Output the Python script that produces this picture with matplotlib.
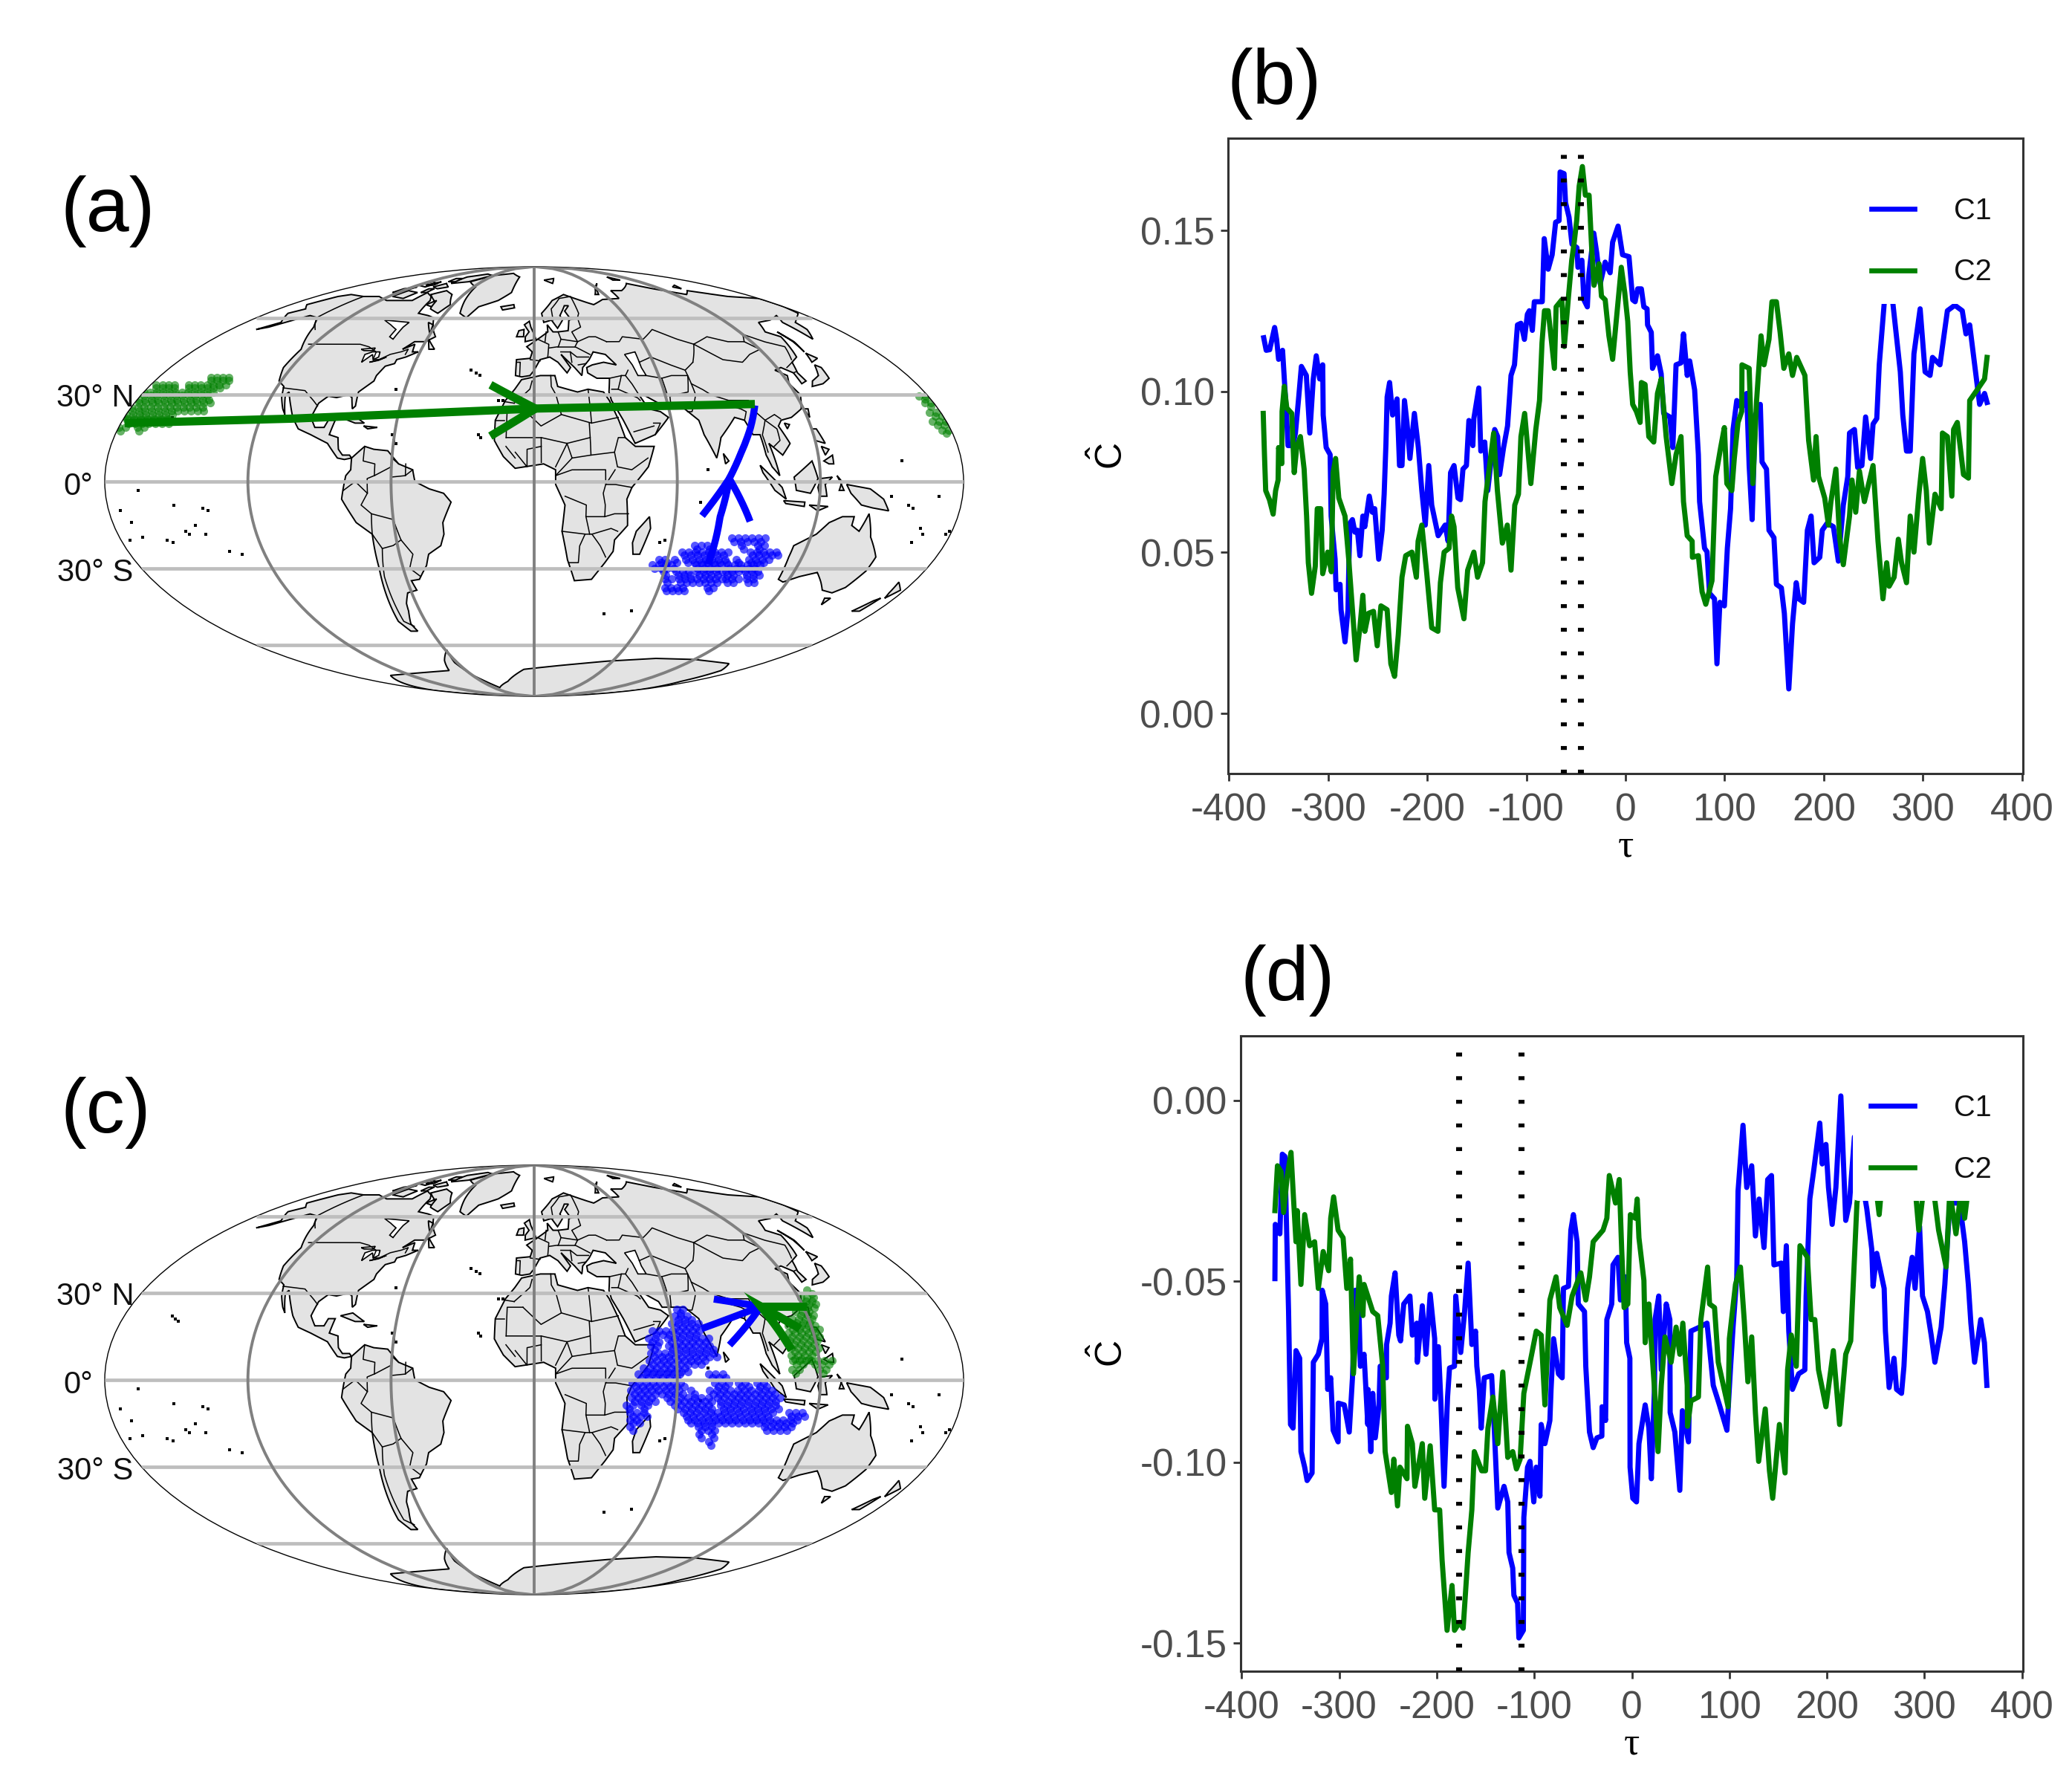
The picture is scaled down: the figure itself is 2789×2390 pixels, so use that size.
import numpy as np
import matplotlib
matplotlib.use('Agg')
import matplotlib.pyplot as plt
from matplotlib.lines import Line2D

plt.rcParams['font.family'] = ['Liberation Sans', 'DejaVu Sans']
plt.rcParams['axes.unicode_minus'] = False
plt.rcParams['mathtext.fontset'] = 'custom'
plt.rcParams['mathtext.rm'] = 'Liberation Sans'
plt.rcParams['mathtext.it'] = 'Liberation Sans'

W, H = 2789, 2390
DPI = 200

# lag, cross-correlation readings for panel (b)
b_c1_tau = [-365,-362.5,-359,-354,-352,-350,-346,-344,-342,-340.5,-335.5,-333,-330,-327,-322,-318.5,-315,-312,-308.5,-305.5,-305,-302,-298,-297,-293,-292,-288,-287,-283,-280,-279,-278,-275.5,-273,-270.5,-268,-265,-263,-258.5,-255.5,-253,-249,-245.5,-243.5,-241.7,-240.5,-238,-235,-230.5,-228,-225.5,-223,-220.5,-217.5,-213,-209,-205.5,-202,-198.5,-195.5,-189,-182,-179,-176.5,-173,-169,-166.5,-164,-160.5,-158,-154,-153,-148,-146,-142,-139,-132,-129,-127,-123,-119,-115.5,-112,-109,-105.5,-102,-99,-97,-94,-92,-84,-82,-78,-74,-70.5,-67,-66,-62,-60.5,-57,-54,-49,-48,-44,-42,-38.5,-37,-32,-29,-25.5,-20.5,-15.5,-13,-7.5,-3,3.5,7.25,9.75,12.25,16,18.5,21.75,22.25,26,27.25,32.25,36,38.5,44.75,47.75,51,56,58.5,62.25,64.75,69.75,73.5,74.75,79.75,82.25,84.75,89.75,92.25,95.25,99.75,102.75,106,108.5,112.25,117.25,122.25,124.75,127.75,131,136,137.75,142.25,144.75,149.75,152.25,157.25,160.25,164.75,168.5,172.25,174.75,179.75,183.5,187.25,190.25,196,198.5,203.5,209.75,214.75,219.75,224.25,226,231,234.25,238.5,242.25,247.25,249.75,253.5,256,261,264.75,269.75,277.25,279.75,283.5,287.25,291,297.25,302.25,307.25,309.75,317.25,324.75,332.25,339.75,343.5,347.25,352.25,357.25,362.25,364.75]
b_c1_val = [116.7,112.8,113,119.9,116.2,110,112.8,102.8,92.7,83.2,83.2,87.1,97.2,107.8,105,87.1,103.9,111.1,103.9,108.3,92.7,82.6,80.4,61.3,47.9,38.4,40.1,32.2,22.2,32.2,47.9,59.1,60.2,56.3,56.9,49,61.3,58,67.5,62.5,63.6,47.9,56.9,68.1,83.7,98.3,102.8,92.7,97.7,77,77,97.2,90.4,79.2,93.2,82.6,69.2,58.5,77,64.7,55.2,58.5,53.5,74.8,77,66.9,66.4,75.9,77,91,83.2,91.6,101.1,81.5,84.3,69.2,88.2,86,74.2,82.6,89.3,105,108.3,120.7,121.2,116.2,124,125.1,119,127.9,127.9,147.5,138,142.5,152.6,153.1,168.2,167.7,158.7,154.2,145.8,144.7,138.6,140.8,128.5,126.3,136.3,149.2,143,133.5,140.2,136.9,146.4,151.4,142.5,141.9,128.5,127.9,131.9,131.9,126.3,125.7,120.7,118.4,107.2,111.1,105.5,93.2,92.1,82.6,108.3,108.9,117.9,105,109.5,100.5,80.4,65.8,51.3,50.2,37.3,35.6,15.4,34.5,33.4,51.3,63.6,88.2,97.2,94.9,99.4,77,60.2,92.7,96,78.1,75.9,56.9,54.6,40.1,39,31.1,7.6,27.8,40.6,35.6,34.5,56.9,61.3,46.8,48.5,56.9,59.1,58,47.3,64.7,73.6,87.1,88.2,76.4,77,92.1,79.2,89.9,91.6,108.3,127.4,137.4,127.4,106.1,92.7,81.5,81.5,111.7,125.7,106.1,105,110.6,108.3,125.1,126.8,125.1,117.9,120.7,108.3,96,99.4,96.6]
b_c2_tau = [-365.5,-364.25,-363,-359.25,-355.5,-353,-350.5,-350,-346.75,-346.5,-344.25,-341.75,-336.75,-334.25,-331.75,-328,-324.25,-321.75,-320,-316.75,-313,-311,-307.5,-305.5,-300.5,-296.75,-295,-292.5,-289.25,-283,-279.25,-275.5,-271.75,-268,-265,-263,-259.25,-254.25,-250.5,-246.75,-240.5,-236.75,-233,-229.25,-225.5,-221.75,-215.5,-211,-209.25,-205.5,-200.5,-195.5,-189.25,-186.75,-183,-178,-175.5,-173,-169.25,-163,-159.25,-153,-149.25,-144.25,-141.75,-133,-129.25,-124.25,-119.25,-115.5,-111.75,-108,-105.5,-101.75,-95.5,-90.5,-86.75,-84.25,-81.75,-78,-71.75,-70,-64.25,-61.75,-57.5,-54.25,-51.75,-49.25,-46.75,-43.5,-40.5,-36.75,-34.25,-31.75,-26.75,-24.25,-20.5,-16.75,-13,-8,-4.25,-0.75,2.25,4.75,7.25,11,14.75,16,19.75,23.5,28.5,32.25,36,41,46.75,51,56,58.5,62.25,67.25,67.5,73.5,77.25,81,87.25,91,96,99.75,102.25,107.25,109.75,113.5,117.25,117.5,124.75,128.5,132.25,134.75,136.75,139.75,144.75,147.75,152.25,156,159.75,164.75,168.5,172.75,181,184.75,189.75,192.25,194.75,201,204.75,207.25,212.25,216,219.75,226,228.5,232.25,236,241,249.75,254.75,259.75,263.5,266,271,275.25,278.5,283.5,287.25,291,296,299.75,303.5,306.5,312.25,318.5,319.75,324.75,329.25,331,334.75,341,346,347.25,354.75,362.25,364.75]
b_c2_val = [93.2,80.4,69.2,66.4,61.9,69.2,72.5,82.6,77.6,93.8,101.6,94.9,93.2,74.8,82.6,86,75.9,61.3,46.8,37.3,45.7,63.6,63.6,43.4,50.1,44,74.8,79.2,66.9,61.3,47.9,32.2,16.6,26.6,36.7,25.5,31.1,31.7,21,33.4,32.2,15.4,11.5,24.4,42.3,49,50.1,42.3,53.5,58.5,43.4,26.6,25.5,40.6,50.1,51.3,61.3,58,39,29.4,44.5,50.1,42.3,46.8,65.8,87.1,69.2,52.9,58.5,44.5,64.7,68.1,86,93.2,71.4,88.2,97.2,115.1,125.1,125.1,107.2,126.3,128.5,114,129.6,140.8,146.4,153.1,163.8,169.9,161,161,145.3,133,139.7,129.6,128.5,117.3,110,126.3,138.6,130.7,121.8,106.1,96,93.8,90.4,102.8,102.2,86,84.3,99.4,103.9,86,71.4,80.4,86,65.8,55.2,53.5,48.5,49,37.8,33.9,41.2,73.6,82.6,88.8,71.4,69.2,79.2,90.4,93.8,108.3,107.2,71.4,97.2,108.3,117.3,108.3,116.2,127.9,127.9,118.4,107.2,111.7,105,110.6,105,84.8,72.5,86,73.6,66.9,58.5,65.8,75.9,54.6,46.2,61.3,72.5,62.5,75.3,65.8,77,53.5,35.6,46.8,39.5,42.3,54.1,46.8,40.6,61.3,50.1,68.1,79.2,69.2,52.9,68.1,63.6,87.1,86,67.5,88.2,90.4,74.2,73.1,97.2,100.5,103.9,110.6]

# lag, cross-correlation readings for panel (d)
d_c1_tau = [-365.9,-365.5,-360.8,-359.5,-358.3,-355.7,-354.4,-353.2,-351.9,-349.9,-347.3,-344.3,-340.5,-339.2,-335.4,-332.9,-327.8,-326.5,-321.4,-317.6,-317.4,-313.8,-311.8,-308.7,-306.2,-301.1,-300.9,-294.8,-289.7,-286.4,-283.4,-279.5,-278.3,-274.5,-270.7,-270.4,-267.6,-265.6,-263,-259.2,-258,-251.6,-251.4,-247.8,-246.5,-242.7,-238.9,-237.1,-233.8,-227.5,-225,-220.4,-219.9,-214.8,-211,-206.7,-202.1,-201.9,-198.3,-195.8,-192.5,-188.9,-186.9,-181.8,-180.5,-175.4,-171.6,-167.8,-164,-160.2,-158.9,-156.4,-154.4,-151.3,-143.7,-141.2,-137.4,-131,-127.2,-125.9,-122.1,-120.9,-117.1,-115.8,-111.2,-110.7,-106.9,-104.4,-100.5,-98,-94.2,-92.9,-89.1,-84,-82.8,-80.2,-75.2,-71.4,-70.1,-65,-62.5,-59.9,-56.1,-54.9,-48.5,-47.2,-44.7,-43.4,-39.6,-35.8,-30.7,-30.5,-26.9,-25.6,-20.6,-19.3,-14.2,-11.7,-6.6,-5.3,-2,-1.8,1,4.8,7.3,13.7,17.5,20,23.3,23.8,27.6,30.2,35.3,39,39.3,44.1,49.2,51.8,58.1,60.6,69.5,77.1,83.5,89.8,97.5,101.3,103.8,107.6,108.9,114,117.8,122.9,126.7,130.5,135.5,139.3,143.2,145.7,153.3,155.3,158.4,160.9,164.7,171.1,177.4,178.7,182.5,186.3,192.7,195.2,199,201.6,205.4,209.2,214.3,219.3,223.1,228.2,234.6,240.9,246,247.3,251.1,258.7,260,263.8,268.8,271.4,276.5,279,282.8,287.4,290.4,295,298,303.1,306.9,310.7,317.1,320.9,326,336.1,341.2,345,347.6,351.4,357.7,361.5,364]
d_c1_val = [-49.3,-34.3,-36.9,-25.1,-14.9,-15.5,-30.5,-43.4,-58.4,-89.6,-90.6,-69.2,-71.3,-97.1,-101.4,-105.1,-103,-72.4,-70.2,-65.9,-52.5,-56.3,-79.9,-76.7,-91.2,-94.4,-83.7,-84.2,-91.7,-76.7,-52.5,-60.6,-73.5,-70.2,-89.6,-79.9,-97.1,-81,-93.3,-84.2,-73.5,-76.7,-67.5,-61.6,-54.1,-47.7,-64.9,-66.5,-56.3,-54.1,-64.9,-61.6,-72.4,-56.8,-70.2,-53.6,-65.9,-82.6,-68.1,-83.1,-106.7,-82,-74,-73.5,-54.1,-69.7,-59,-45,-67.5,-63.8,-73.5,-79.9,-90.6,-76.7,-76.1,-89.6,-112.7,-106.7,-111,-125,-129.3,-136.8,-139,-148.6,-146.5,-115.3,-101.4,-99.8,-111,-101.4,-109.4,-89.6,-94.9,-88.5,-79.9,-65.9,-75.6,-76.7,-52,-51.4,-35.9,-31.6,-39.1,-56.3,-58.4,-73.5,-85.3,-91.7,-96,-93.3,-92.8,-84.7,-88.5,-60.6,-56.3,-45.5,-43.4,-55.2,-48.8,-67,-71.3,-101.4,-110,-111,-94.9,-84.2,-90.6,-104.6,-78.8,-60.6,-54.1,-74.5,-56.3,-60.6,-86.3,-91.7,-107.8,-85.8,-94.4,-63.8,-62.7,-61.6,-78.8,-84.2,-91.2,-73.5,-62.7,-48.8,-25.1,-6.9,-24.1,-18.1,-37.5,-27.3,-40.7,-21.9,-20.8,-45.5,-45,-58.4,-40.2,-63.8,-79.9,-75.6,-74.5,-54.1,-27.3,-19.8,-6.3,-17.6,-12.2,-24.1,-34.3,-24.1,1.2,-33.2,-28.4,-10.1,-19.8,-30,-41.2,-51.4,-42.3,-52,-63.8,-79.4,-71.3,-79.9,-81,-73.5,-52,-43.4,-52,-34.8,-54.1,-58.4,-64.9,-72.4,-62.7,-50.9,-28.4,-28.4,-39.1,-50.9,-61.6,-72.4,-60.6,-67,-78.8]
d_c2_tau = [-365.9,-363.3,-359.5,-357,-353.2,-349.4,-346.8,-344.3,-343,-339.2,-335.4,-330.3,-325.2,-321.4,-316.4,-310.8,-308.7,-305.7,-301.1,-296,-292.2,-288.4,-285.4,-279.5,-275.7,-274.5,-265.6,-260.5,-255.4,-252.9,-246.5,-244,-240.2,-237.7,-230.5,-230,-225,-222.4,-214.8,-212.3,-206.7,-202.1,-197,-194.5,-189.4,-184.3,-181.8,-176.7,-172.9,-167.8,-164,-161.5,-153.9,-150,-147.5,-142.4,-137.4,-132.3,-127.2,-122.1,-118.3,-114.5,-110.7,-103.1,-98,-92.9,-89.1,-84,-77.7,-73.9,-66.3,-61.2,-52.3,-47.2,-43.4,-39.6,-29.5,-25.6,-23.1,-16.7,-12.9,-10.4,-7.9,-4.1,-1.5,3.6,5.5,7.3,12.4,13.7,17.5,20,23.8,26.9,30.2,34,40.3,45.4,49.2,52.3,56.8,57.1,60.6,68.3,70.8,77.7,79.7,84.8,88.6,98.7,100,106.3,111.4,115.2,119,122.9,126.7,130,136.8,141.1,144.4,151.3,157.1,159.7,163.5,168.6,172.4,180,183.8,187.6,191.4,199,206.6,213,219.3,224.4,230.8,235.8,249.8,253.6,257.4,275.2,290.4,294.2,299.3,309.5,314.5,322.2,326,332.3,337.4,341.2,345,364]
d_c2_val = [-30.5,-18.1,-19.8,-31,-20.8,-14.4,-27.3,-39.1,-30.5,-50.9,-31.6,-40.2,-39.1,-52,-41.8,-47.1,-32.6,-26.7,-35.9,-38,-52,-43.9,-75.6,-48.8,-59.5,-50.9,-58.4,-59.5,-73.5,-97.1,-108.4,-99.2,-112.1,-101.4,-104.6,-90.1,-94.9,-106.7,-94.9,-110,-95.5,-113.2,-113.2,-127.1,-146.5,-134.1,-146.5,-144.3,-145.9,-125,-113.2,-97.1,-102.4,-102.4,-90.6,-82,-94.9,-75.1,-98.7,-97.1,-101.9,-99.2,-81,-70.8,-63.8,-64.9,-84.2,-55.2,-48.8,-57.3,-62.2,-54.1,-47.7,-55.2,-48.8,-39.1,-35.9,-32.6,-20.8,-28.4,-21.9,-41.2,-57.3,-56.3,-31.6,-32.6,-27.3,-38,-49.8,-67,-56.3,-67,-82,-97.1,-78.8,-65.4,-72.4,-62.7,-70.2,-61.6,-78.8,-90.1,-83.1,-82,-60.6,-46.1,-56.3,-57.3,-72.4,-84.7,-65.9,-50.9,-46.1,-60.6,-77.8,-65.4,-86.3,-99.8,-85.3,-102.4,-110,-89.6,-103,-74.5,-64.9,-73.5,-40.2,-43.4,-60.6,-60.6,-74.5,-84.7,-69.2,-89.6,-70.2,-66.5,-28.4,-19.8,-23,-31.6,-19.8,-17.6,-24.1,-35.9,-24.1,-25.1,-35.9,-46.1,-25.1,-36.9,-25.1,-32.6,-24.1,-17.6]

b_lags = [-62, -45]
d_lags = [-177, -113]
x_ticks = [-400, -300, -200, -100, 0, 100, 200, 300, 400]
b_yticks = [0.00, 0.05, 0.10, 0.15]
d_yticks = [-0.15, -0.10, -0.05, 0.00]
series_labels = ['C1', 'C2']

# land outlines, lon/lat degrees
land = [
    [(-168,66),(-162,70),(-156,71),(-141,70),(-128,70),(-115,68),(-108,68),(-95,68),(-94,72),(-85,70),(-81,68),(-78,62),(-70,61),(-65,60),(-60,55),(-56,52),(-60,50),(-66,50),(-70,47),(-65,49),(-64,46),(-61,46),(-66,44),(-70,43),(-70,41.5),(-74,40.5),(-76,37),(-76,35),(-81,31),(-80,26),(-81,25),(-83,29),(-85,30),(-90,29),(-94,29.5),(-97,27),(-98,22),(-95,18.5),(-91,18.5),(-90,21),(-87,21),(-88,16),(-84,15),(-83,11),(-81,9),(-78,9),(-77,8),(-80,7.5),(-83,8),(-86,11),(-88,13),(-92,14.5),(-96,16),(-102,18),(-106,22),(-109,26),(-113,31),(-114,30),(-110,23),(-112,25),(-115,29),(-117,33),(-121,35),(-124,40),(-124,47),(-128,51),(-133,56),(-140,60),(-148,61),(-153,59),(-160,56),(-165,55),(-158,58),(-162,60),(-166,62),(-161,64),(-168,66)],
    [(-73,78),(-60,82),(-35,83.5),(-20,81),(-20,72),(-28,68),(-40,65),(-44,60),(-50,62),(-54,68),(-58,75),(-73,78)],
    [(-80,73),(-70,71),(-62,66),(-65,62),(-73,64),(-78,68),(-88,71)],
    [(-117,70),(-105,69),(-103,72),(-115,73)],
    [(-90,77),(-75,78),(-62,82),(-75,83),(-92,81)],
    [(-125,72),(-118,72),(-116,75),(-124,74)],
    [(-100,75),(-92,74),(-85,75),(-95,77)],
    [(-120,76),(-108,75),(-105,77),(-116,78)],
    [(-100,72),(-95,72),(-95,74),(-100,74)],
    [(-112,76),(-104,76),(-106,78)],
    [(-98,78),(-90,78),(-92,80),(-100,80)],
    [(-80,66),(-74,65),(-76,68)],
    [(-66,58),(-62,57),(-60,53)],
    [(-59,51),(-53,47),(-56,47)],
    [(-77,8),(-72,12),(-68,11),(-62,10.5),(-57,6),(-51,4),(-50,0),(-44,-2.5),(-38,-4),(-35,-7),(-39,-14),(-39,-18),(-41,-22),(-47,-25),(-49,-29),(-54,-34),(-58,-34.5),(-57,-38),(-62,-39),(-65,-43),(-66,-46),(-69,-51),(-68,-54),(-72,-54),(-75,-50),(-73,-40),(-71,-30),(-70,-18),(-76,-14),(-81,-6),(-80,-2),(-79,2),(-77,4),(-77,8)],
    [(-6,35.5),(3,37),(10,37),(11,33),(20,31),(25,32),(32,31),(34,28),(37,21),(39,15),(43,12),(51,12),(48,5),(41,-2),(39,-6),(40,-15),(35,-20),(35,-24),(32,-28),(27,-34),(19,-34.5),(15,-27),(12,-17),(13,-8),(9,-1),(9,4),(4,6),(-4,5),(-8,4.5),(-13,8.5),(-17,14),(-17,21),(-13,28),(-9,32),(-6,35.5)],
    [(49,-12),(50,-16),(47,-25),(44,-25),(43,-21),(44,-17),(49,-12)],
    [(-9,37),(-9,43),(-2,43.5),(-1,46),(-4,48),(2,51),(8,54),(8,57),(11,54),(14,54),(20,54.5),(22,59),(29,60),(23,60),(21,63),(25,65.5),(22,65.5),(17,61),(18,59),(14,55.5),(11,59),(6,58),(5,62),(14,68),(25,71),(40,67),(44,66),(54,68.5),(68,69),(70,73),(80,73),(100,77),(113,74),(130,71),(140,73),(160,70),(180,69),(180,65),(178,62),(170,60),(163,58),(162,55),(156,51),(155,58),(160,61),(150,59),(140,58),(135,54),(140,52),(135,44),(130,42),(128,38),(129,35),(126,34),(126,38),(122,40),(118,39),(122,37),(120,34),(122,30),(119,25),(113,22),(108,21),(106,19),(109,13),(105,9),(100,13),(103,2),(100,5),(98,9),(97,16),(94,16),(92,21),(88,22),(80,15),(77,8),(73,16),(72,21),(67,25),(57,25),(56,27),(50,30),(48,30),(51,25),(56,24),(59,22),(52,16),(43,13),(39,21),(35,28),(34.5,31),(36,36),(30,36),(26,38),(26,40),(29,41),(35,42),(41,41),(37,45),(31,46),(28,43),(24,40),(23,37),(20,40),(14,45),(18,40),(16,38),(12,42),(8,44),(3,43),(0,39),(-2,37),(-6,36.5),(-9,37)],
    [(114,-22),(122,-18),(126,-14),(131,-12),(136,-12),(136,-15),(140,-17),(142,-11),(146,-19),(153,-26),(153,-31),(150,-37),(146,-39),(140,-38),(136,-35),(131,-31.5),(124,-33),(118,-35),(115,-34),(114,-26),(114,-22)],
    [(145,-41),(148,-41),(147,-43.5)],
    [(173,-35),(178,-38),(175,-41),(174,-39)],
    [(173,-41),(171,-46),(167,-46),(171,-42)],
    [(131,-1),(141,-2.5),(147,-6),(150,-10),(143,-9),(138,-8),(133,-4)],
    [(109,1.5),(117,7),(119,1),(116,-4),(110,-3)],
    [(95,5.5),(104,-2),(106,-6),(101,-3),(96,3)],
    [(105,-6.5),(114,-7),(114,-8.5),(106,-7.5)],
    [(116,-8),(124,-8.5),(120,-10)],
    [(120,1),(125,1.5),(122,-1),(123,-5),(120,-5),(119,-2)],
    [(127,2),(129,0),(128,-3),(130,-3)],
    [(120,18),(122,18),(124,13),(120,14)],
    [(122,7),(126,9),(126,6),(124,6)],
    [(122,12),(125,11),(123,9)],
    [(120,25),(122,25),(121,22)],
    [(109,20),(111,19.5),(109.5,18)],
    [(130,33),(136,34),(141,36),(142,40),(140,41),(137,37),(132,35)],
    [(140,42),(145,43.5),(142,45.5)],
    [(142,46),(143,50),(142,54),(143.5,50)],
    [(80,9.5),(82,7),(80.5,6)],
    [(-5,50),(1,51),(0,53),(-2,56),(-3,58.5),(-6,57),(-3,54),(-5,52)],
    [(-10,52),(-6,52),(-6,55),(-9,54.5)],
    [(-24,65),(-15,66),(-14,64.5),(-22,63.5)],
    [(12,79),(25,80),(20,77)],
    [(52,71),(58,74),(68,77),(60,75),(55,71)],
    [(137,75),(145,76),(140,74)],
    [(95,79),(104,79),(100,81)],
    [(-85,22),(-80,23),(-74,20),(-78,20)],
    [(-74,19),(-68,18.5),(-72,18)],
    [(-180,-84),(-140,-74.6),(-100,-73),(-75,-72),(-68,-67),(-59,-62),(-62,-68),(-60,-74),(-51,-82),(-30,-78),(-9,-71.4),(20,-69.5),(56,-67.3),(90,-66),(120,-66.5),(154,-68.5),(165,-72),(168,-78),(180,-84),(180,-90),(-180,-90)],
]
lakes = [
    [(47,45),(53,46),(53,40),(54,37),(50,37),(49,41)],
    [(-95,59),(-88,57),(-82,55),(-82,52),(-79,51),(-79,56),(-78,58)],
    [(-92,47),(-85,47.5),(-85,46.5),(-90,46.5)],
    [(-88,45),(-85,46),(-81,46),(-80,44),(-82,43),(-84,45),(-87,42)],
    [(-83,42),(-79,43),(-76,44),(-79,42.7)],
]
borders = [
    [(-123,49),(-95,49),(-89,48),(-83,46),(-82,43),(-79,43),(-75,45),(-70,46),(-67,47),(-67,45)],
    [(-141,70),(-141,60),(-130,55)],
    [(-117,32.5),(-106,31.5),(-100,28),(-97,26)],
    [(-70,-18),(-69,-11),(-73,-8),(-70,-4),(-70,1),(-67,2),(-60,5),(-60,8)],
    [(-69,-11),(-60,-13),(-58,-20),(-54,-25),(-57,-30),(-53,-33)],
    [(-70,-18),(-67,-23),(-70,-33),(-72,-50),(-68,-52)],
    [(-67,-23),(-62,-22),(-58,-20)],
    [(-80,-3),(-75,0),(-70,-4)],
    [(-72,12),(-72,7),(-67,6),(-67,2)],
    [(-60,8),(-57,6)],
    [(-54,2),(-54,6)],
    [(-51,4),(-54,2),(-60,1.5)],
    [(-9,27),(-2,32),(-1,35)],
    [(-9,27),(-13,27.5)],
    [(-13,21),(-17,21)],
    [(-5,25),(3,19),(12,23),(10,30),(8,33),(8,37)],
    [(12,23),(25,20),(25,32)],
    [(25,20),(37,22)],
    [(-12,15),(-5,15),(3,15),(14,13),(24,15),(24,20)],
    [(-5,25),(-12,25),(-12,15)],
    [(14,13),(16,8),(24,9),(24,15)],
    [(24,9),(34,10),(36,15),(39,15)],
    [(3,15),(3,6.5)],
    [(-8,10),(-3,5),(-3,11),(3,12)],
    [(-12,12),(-8,8)],
    [(9,5),(14,13)],
    [(16,8),(9,2)],
    [(34,10),(35,5),(41,4),(48,8)],
    [(34,4),(30,-1),(34,-1),(41,-2)],
    [(13,-5),(22,-8),(22,-12),(30,-12),(30,-8),(29,-4),(30,-1),(30,4),(16,4),(9,2)],
    [(30,-12),(34,-11),(40,-11)],
    [(12,-17),(22,-18),(25,-18),(33,-16),(36,-17)],
    [(22,-18),(20,-22),(20,-28),(16,-28)],
    [(25,-18),(29,-22),(32,-26)],
    [(22,-12),(24,-18)],
    [(-2,43),(3,42.5)],
    [(-7,37),(-7,42),(-9,42)],
    [(2,51),(8,49),(7,44)],
    [(7,54),(6,50)],
    [(14,54),(15,51),(24,50),(22,54),(28,56),(28,60)],
    [(24,50),(22,48),(29,45)],
    [(15,51),(13,48),(8,47.5)],
    [(13,48),(17,48),(22,48)],
    [(14,46),(19,46),(22,44),(28,44)],
    [(19,46),(19,42)],
    [(22,41),(26,41.5)],
    [(20,69),(30,70),(30,62),(28,60)],
    [(20,69),(12,64),(12,59)],
    [(40,50),(35,52),(31,52),(24,50)],
    [(40,50),(47,50),(50,52),(61,51),(70,55),(80,51),(87,49),(98,52),(107,50),(116,50),(120,53),(127,50),(135,48),(131,43)],
    [(87,49),(96,43),(105,42),(112,45),(120,47),(116,50)],
    [(80,42),(74,39),(74,34),(78,32),(81,30),(88,28),(97,28),(98,24),(101,21),(106,23),(108,21.5)],
    [(80,42),(87,49)],
    [(53,42),(60,44),(68,41),(74,39)],
    [(54,37),(61,36),(66,37),(74,37),(71,31),(62,29.5),(61,25)],
    [(61,36),(61,29.5)],
    [(46,39),(44,37),(46,34),(48,30)],
    [(36,36),(42,37),(44,37)],
    [(42,37),(39,32),(36,32)],
    [(39,32),(47,29),(48,28)],
    [(52,20),(55,20),(52,16)],
    [(43,17),(52,19)],
    [(74,34),(74,30),(70,24),(68,24)],
    [(88,26),(92,25),(94,24),(92,21)],
    [(101,21),(98,16),(99,10)],
    [(101,21),(105,18),(105,14),(102,12)],
    [(125,40),(130,42)],
    [(126,38),(128,38.5)],
]
islet_lon = [-155,-157,-159,-28,-26,-31,-24,-23,-16,-14,-150,-149,-140,-138,-145,-160,-172,-170,-176,-158,-135,-130,-60,-61,-59,-64,166,168,178,179,160,158,170,165,150,155,57,55,70,73,-175,-166,-152,-142,37,51]
islet_lat = [20,21,22,38,37,39,16,15,28,28,-17,-18,-9,-10,-15,-20,-14,-19,-20,-21,-24,-25,14,16,13,32,-16,-18,-18,-17,-9,-8,-5,-21,-5,7,-20,-21,-7,4,-10,-3,-8,-18,-47,-46]

# footprint cells as bands of (lat, [lon spans]), staggered rows inside a band
a_green_bands = [
    (35.7, [(-155,-144)]),
    (33.0, [(-177.4,-166.5),(-162.3,-144)]),
    (30.3, [(-179.8,-147)]),
    (27.7, [(-179.4,-146)]),
    (25.0, [(-180,-146)]),
    (22.4, [(-180,-159.4)]),
    (20.4, [(-178,-159)]),
    (17.8, [(-179.9,-176.7),(-171.9,-168.7)]),
    (29.0, [(176,180)]),
    (26.5, [(176,180)]),
    (23.0, [(175,180)]),
    (20.0, [(174,180)]),
    (17.0, [(176,180)]),
]
a_blue_bands = [
    (-20.0, [(85.8,101.3)]),
    (-22.6, [(70.4,73.7),(75.9,78.6),(91,93.8),(98.1,101.4)]),
    (-24.8, [(65.7,86),(95.9,109)]),
    (-27.4, [(56,61),(63.2,66),(68.3,87.2),(91,93.3),(96.7,106.1)]),
    (-29.5, [(53.9,64.6),(73.6,86.6),(88.3,104)]),
    (-31.9, [(59.8,62.2),(65.6,73.6),(75.3,87.3),(88.5,95.4),(97.6,105.6)]),
    (-34.5, [(61.6,64.5),(68,89),(90.2,96),(100.1,105.4)]),
    (-37.7, [(63.1,73.9),(83.5,86.5)]),
]
c_blue_bands = [
    (23.7, [(63.2,66.5)]),
    (21.2, [(61.5,69)]),
    (18.6, [(59.8,71.5)]),
    (16.1, [(50.7,71.9)]),
    (13.6, [(48.8,54),(57.2,75.2)]),
    (11.0, [(49.6,53.3),(57,76.3)]),
    (8.5, [(49.4,77)]),
    (6.0, [(48.6,72)]),
    (3.5, [(45.8,65.9)]),
    (1.4, [(43.7,62),(73.2,80.9)]),
    (-1.6, [(41.1,63.4),(75.8,83),(85.6,90.8),(93.3,98.5)]),
    (-4.1, [(40.6,63.4),(65.9,68.5),(73.7,101.6)]),
    (-6.6, [(40.8,51.2),(55.9,75),(77.2,103.7)]),
    (-9.2, [(38.9,43.1),(45.1,49.4),(59.3,76.6),(78.6,104.2)]),
    (-11.7, [(40.7,48.5),(63.3,101),(107.9,116.2)]),
    (-14.2, [(40.9,45.6),(65.7,112.1)]),
    (-16.7, [(41.3,43.5),(70.6,79.2),(98.9,111.6)]),
    (-19.3, [(71.4,73.5),(76.8,79)]),
    (-21.8, [(76.5,78.1)]),
]
c_green_bands = [
    (30.4, [(125.8,128.5)]),
    (27.9, [(121,128.2)]),
    (25.4, [(120.2,126.8)]),
    (22.8, [(115.7,123.8)]),
    (20.3, [(112.8,122.5)]),
    (17.8, [(110.1,124.4)]),
    (15.3, [(109,123.3)]),
    (12.7, [(109,121.6)]),
    (10.2, [(108.9,120.5)]),
    (7.7, [(108.4,118.3)]),
    (6.0, [(108.8,114.6),(116.6,126.5)]),
    (3.0, [(108.3,111.4),(119.7,123.3)]),
]

# migration arrows, lon/lat degrees
a_green_path = [(-178.4,20),(-108,21.5),(0.6,25.1),(99.2,26.7)]
a_green_head = [(-20.5,33.6),(0.6,25.1),(-18.8,15.5)]
a_blue_path = [(79,-28.5),(79,-12.2),(81.8,1),(87.6,9.9),(93.4,18),(98.9,26.2)]
a_blue_head = [(71.3,-11.7),(81.8,1),(92.1,-13.6)]
c_blue_path = [(72.2,17.5),(101.1,25.3)]
c_blue_head = [(81.3,27.9),(101.1,25.3),(83,11.9)]
c_green_path = [(121.5,25.3),(101.1,25.3)]
c_green_head = [(109,10.2),(101.1,25.3),(114.8,17.5)]

lat_lines = [-60, -30, 0, 30, 60]
lon_lines = [-120, -60, 0, 60, 120]

BLUE = '#0000ff'
GREEN = '#008000'
TICK = '#333333'
LABEL = '#4d4d4d'


def rect(left, top, right, bottom):
    return [left / W, 1 - bottom / H, (right - left) / W, (bottom - top) / H]


def band_cells(bands, dlon=2.9, dlat=1.26):
    lon, lat = [], []
    for la, spans in bands:
        for lo0, lo1 in spans:
            for k in (0, 1):
                row = np.arange(lo0 + k * dlon / 2, lo1 + 0.01, dlon)
                if len(row) == 0:
                    row = np.array([lo0])
                lon.extend(row)
                lat.extend([la + 0.63 - k * dlat] * len(row))
    return np.array(lon), np.array(lat)


def rad(path):
    p = np.radians(np.array(path, dtype=float))
    return p[:, 0], p[:, 1]


def draw_map(pos, blue_bands, green_bands, blue_path, blue_head, green_path, green_head):
    ax = fig.add_axes(pos, projection='mollweide')
    ax.grid(False)
    ax.set_xticklabels([])
    ax.set_yticklabels([])
    ax.spines['geo'].set_linewidth(0.5)
    ax.spines['geo'].set_edgecolor('black')

    for poly in land:
        x, y = rad(poly)
        ax.fill(x, y, facecolor='#e3e3e3', edgecolor='black', linewidth=0.7, zorder=1)
    for poly in lakes:
        x, y = rad(poly)
        ax.fill(x, y, facecolor='white', edgecolor='black', linewidth=0.6, zorder=1.1)
    for line in borders:
        x, y = rad(line)
        ax.plot(x, y, color='black', linewidth=0.55, zorder=1.2)
    ax.scatter(np.radians(islet_lon), np.radians(islet_lat), s=1.6, marker='s', color='black', linewidths=0, zorder=1.3)

    for bands, col, alpha in ((blue_bands, BLUE, 0.66), (green_bands, GREEN, 0.6)):
        lon, lat = band_cells(bands)
        ax.scatter(np.radians(lon), np.radians(lat), s=16, color=col, alpha=alpha, linewidths=0, zorder=2)

    for la in lat_lines:
        ax.plot(np.radians([-180, 180]), np.radians([la, la]), color='#bebebe', linewidth=1.7, solid_capstyle='butt', zorder=3)
    for lo in lon_lines:
        ax.plot(np.radians([lo, lo]), np.radians([-89.9, 89.9]), color='#808080', linewidth=1.4, zorder=3)

    for path, head, col, lw in ((blue_path, blue_head, BLUE, 3.4), (green_path, green_head, GREEN, 4.0)):
        for seg in (path, head):
            x, y = rad(seg)
            ax.plot(x, y, color=col, linewidth=lw, solid_capstyle='butt', solid_joinstyle='miter', zorder=4)
    return ax


def map_labels(offset):
    rows = [('30° N', 181, 536), ('0°', 125, 655), ('30° S', 179, 771)]
    for txt, right, py in rows:
        fig.text(right / W, 1 - (py + offset) / H, txt, ha='right', va='center', fontsize=15, color='#111111')


def draw_curves(pos, c1_tau, c1_val, c2_tau, c2_val, lags, yticks, ylim, legend_xy):
    ax = fig.add_axes(pos)
    ax.plot(c1_tau, np.array(c1_val) / 1000, color=BLUE, linewidth=2.5, solid_joinstyle='round', label=series_labels[0])
    ax.plot(c2_tau, np.array(c2_val) / 1000, color=GREEN, linewidth=2.5, solid_joinstyle='round', label=series_labels[1])
    for lag in lags:
        ax.axvline(lag, color='black', linewidth=2.9, linestyle=(0, (0.65, 3.3)), dash_capstyle='butt', zorder=3)
    ax.set_xlim(-401, 401)
    ax.set_ylim(*ylim)
    ax.set_xticks(x_ticks)
    ax.set_yticks(yticks)
    ax.set_yticklabels(['%.2f' % v for v in yticks])
    ax.tick_params(axis='both', direction='out', length=3.6, width=1.0, color=TICK, labelcolor=LABEL, labelsize=18.5)
    ax.tick_params(axis='x', pad=5.5)
    ax.tick_params(axis='y', pad=3)
    for s in ax.spines.values():
        s.set_linewidth(1.1)
        s.set_color(TICK)
    ax.set_xlabel('τ', family=['Liberation Serif'], fontsize=19, labelpad=0)
    ax.set_ylabel(r'$\hat{\mathrm{C}}$', fontsize=18, labelpad=5)
    handles = [Line2D([], [], color=BLUE, linewidth=2.4), Line2D([], [], color=GREEN, linewidth=2.4)]
    ax.legend(handles, series_labels, loc='upper left', bbox_to_anchor=legend_xy, bbox_transform=ax.transAxes,
              borderaxespad=0, borderpad=0.6, frameon=True, facecolor='white', edgecolor='none', framealpha=1,
              fontsize=14.3, handlelength=1.47, handletextpad=1.33, labelspacing=1.13, labelcolor='#111111')
    return ax


fig = plt.figure(figsize=(W / DPI, H / DPI), dpi=DPI, facecolor='white')

draw_map(rect(139, 359, 1299, 937), a_blue_bands, a_green_bands, a_blue_path, a_blue_head, a_green_path, a_green_head)
draw_map(rect(139, 1568, 1299, 2146), c_blue_bands, c_green_bands, c_blue_path, c_blue_head, c_green_path, c_green_head)
map_labels(0)
map_labels(1209)

draw_curves(rect(1653, 186, 2723, 1041), b_c1_tau, b_c1_val, b_c2_tau, b_c2_val, b_lags, b_yticks, (-0.0187, 0.1787), (0.787, 0.936))
draw_curves(rect(1670, 1394, 2723, 2249), d_c1_tau, d_c1_val, d_c2_tau, d_c2_val, d_lags, d_yticks, (-0.1578, 0.0178), (0.783, 0.937))

for txt, px, py in [('(a)', 82, 311), ('(b)', 1652, 139), ('(c)', 82, 1524), ('(d)', 1670, 1346)]:
    fig.text(px / W, 1 - py / H, txt, ha='left', va='baseline', fontsize=37.5, color='black')

fig.savefig('out.png', dpi=DPI)
